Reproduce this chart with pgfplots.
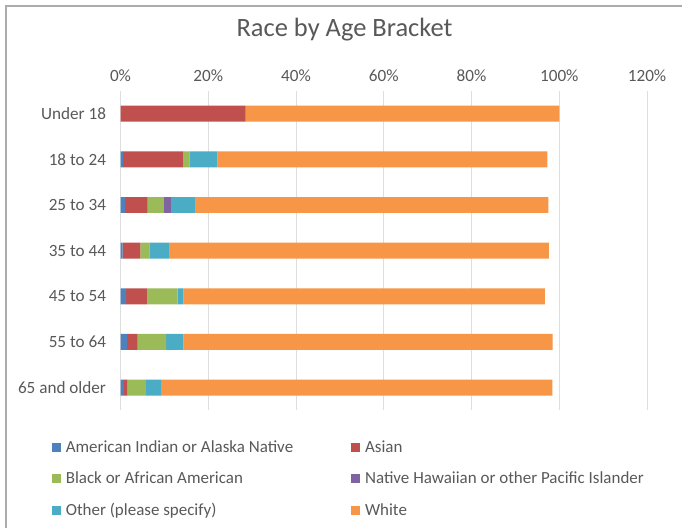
\documentclass[border=0pt]{standalone}
\usepackage{fontspec}
\setmainfont{Carlito}
\usepackage{pgfplots}
\pgfplotsset{compat=1.18}
\definecolor{txt}{HTML}{595959}
\definecolor{cAI}{HTML}{4F81BD}
\definecolor{cAS}{HTML}{C0504D}
\definecolor{cBL}{HTML}{9BBB59}
\definecolor{cNH}{HTML}{8064A2}
\definecolor{cOT}{HTML}{4BACC6}
\definecolor{cWH}{HTML}{F79646}
\begin{document}
\begin{tikzpicture}[x=1pt,y=1pt]
% page frame
\fill[white] (0,0) rectangle (683,529);
\draw[gray!65, line width=2pt] (6,0) -- (6,523) -- (683,523);
\node[text=txt, font=\fontsize{26.5}{31}\selectfont] at (345,499) {Race by Age Bracket};
\begin{axis}[
  at={(120.7pt,118pt)}, anchor=south west,
  scale only axis, width=527.3pt, height=320pt,
  xbar stacked, bar width=16pt,
  xmin=0, xmax=120, ymin=-0.5, ymax=6.5,
  y dir=reverse,
  ytick={0,...,6},
  yticklabels={Under 18,18 to 24,25 to 34,35 to 44,45 to 54,55 to 64,65 and older},
  xtick={0,20,...,120},
  xticklabel={\pgfmathprintnumber{\tick}\%},
  xticklabel pos=upper,
  /pgf/number format/assume math mode=true,
  axis line style={draw=none},
  major tick length=0pt,
  xmajorgrids, grid style={black!13, line width=1pt},
  tick label style={font=\fontsize{17.2}{20}\selectfont, text=txt},
  xticklabel style={yshift=6pt},
  yticklabel style={xshift=-11pt},
  every axis plot/.append style={draw=none},
  legend columns=2,
  legend cell align=left,
  legend image code/.code={\fill[#1] (0pt,-4.5pt) rectangle (9pt,4.5pt);},
  legend style={at={(0,0)}, anchor=north west, xshift=-69pt, yshift=-28pt,
    draw=none, fill=none, inner sep=0pt,
    font=\fontsize{17}{20}\selectfont, text=txt,
    row sep=14pt,
    /tikz/every odd column/.append style={column sep=3pt},
    /tikz/every even column/.append style={column sep=56pt}},
]
\addplot+[fill=cAI] coordinates {(0,0) (0.6,1) (1.0,2) (0.5,3) (1.3,4) (1.5,5) (0.75,6)};
\addlegendentry{American Indian or Alaska Native}
\addplot+[fill=cAS] coordinates {(28.5,0) (13.6,1) (5.2,2) (4.0,3) (4.8,4) (2.4,5) (0.75,6)};
\addlegendentry{Asian}
\addplot+[fill=cBL] coordinates {(0,0) (1.5,1) (3.7,2) (2.1,3) (6.9,4) (6.5,5) (4.3,6)};
\addlegendentry{Black or African American}
\addplot+[fill=cNH] coordinates {(0,0) (0,1) (1.6,2) (0,3) (0,4) (0,5) (0,6)};
\addlegendentry{Native Hawaiian or other Pacific Islander}
\addplot+[fill=cOT] coordinates {(0,0) (6.4,1) (5.6,2) (4.6,3) (1.3,4) (3.9,5) (3.4,6)};
\addlegendentry{Other (please specify)}
\addplot+[fill=cWH] coordinates {(71.5,0) (75.2,1) (80.4,2) (86.4,3) (82.4,4) (84.2,5) (89.2,6)};
\addlegendentry{White}
\end{axis}
\end{tikzpicture}
\end{document}
